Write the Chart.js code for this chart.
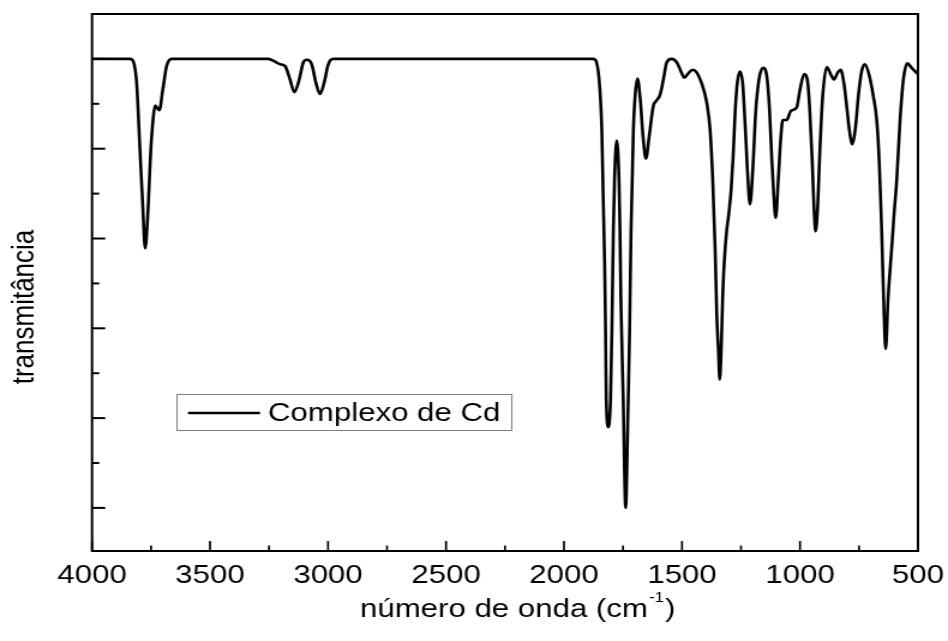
<!DOCTYPE html>
<html>
<head>
<meta charset="utf-8">
<script src="https://cdn.jsdelivr.net/npm/chart.js@4.4.1/dist/chart.umd.min.js"></script>
<style>
  html, body { margin: 0; padding: 0; background: #ffffff; }
  #wrap { width: 948px; height: 641px; overflow: hidden; }
</style>
</head>
<body>
<div id="wrap"><canvas id="c" width="790" height="641" style="display:block;width:948px;height:641px;"></canvas></div>
<script>
// ---- data ----
const seriesLabel = 'Complexo de Cd';
const xTitleMain = 'número de onda (cm';
const xTitleSup = '-1';
const xTitleEnd = ')';
const yTitle = 'transmitância';

const wavenumbers = [
  4000, 3839, 3825, 3811, 3797, 3785, 3775, 3764, 3751, 3740, 3733, 3715, 3700, 3684, 3662,
  3253, 3225, 3203, 3182, 3161, 3143, 3122, 3105, 3090, 3069, 3051, 3034, 3017, 2999, 2978,
  1876, 1862, 1848, 1840, 1834, 1828, 1824, 1821, 1812, 1803, 1797, 1791, 1786, 1777, 1767,
  1763, 1759, 1749, 1739, 1728, 1722, 1716, 1706, 1699, 1689, 1678, 1664, 1653, 1639, 1622,
  1607, 1593, 1579, 1565, 1544, 1522, 1501, 1490, 1473, 1455, 1438, 1417, 1395, 1381, 1370,
  1360, 1353, 1346, 1340, 1334, 1328, 1321, 1311, 1301, 1292, 1284, 1275, 1266, 1254, 1243,
  1233, 1223, 1212, 1200, 1188, 1174, 1156, 1141, 1130, 1120, 1111, 1103, 1092, 1082, 1073,
  1056, 1039, 1014, 1000, 982, 969, 958, 948, 941, 934, 925, 915, 904, 887, 870,
  856, 842, 828, 814, 802, 791, 778, 766, 753, 739, 725, 706, 689, 675, 664,
  654, 644, 637, 627, 611, 602, 590, 576, 562, 545, 527, 500
];
const transmittance = [
  70.0, 70.0, 69.7, 67.3, 59.9, 53.6, 48.9, 52.5, 59.9, 63.6, 64.8, 64.3, 66.6, 69.2, 70.0,
  70.0, 69.7, 69.4, 69.2, 67.7, 66.3, 67.7, 69.6, 69.9, 69.4, 67.3, 66.1, 67.3, 69.4, 70.0,
  70.0, 69.6, 66.6, 62.1, 54.7, 47.3, 39.8, 32.0, 29.0, 32.0, 39.8, 51.0, 56.6, 60.9, 56.6,
  51.0, 43.2, 32.0, 20.0, 32.0, 39.8, 51.0, 62.1, 65.8, 67.8, 65.8, 61.0, 58.9, 61.4, 64.7,
  65.4, 66.0, 67.7, 69.6, 70.0, 69.6, 68.4, 67.9, 68.4, 68.8, 68.5, 67.3, 65.1, 62.1, 56.6,
  49.1, 41.7, 37.6, 34.3, 37.6, 43.2, 47.4, 50.8, 52.9, 55.4, 58.8, 64.0, 67.3, 68.6, 67.3,
  62.9, 57.7, 53.8, 57.7, 64.0, 67.7, 69.0, 68.1, 64.7, 59.1, 54.7, 52.3, 56.6, 61.0, 63.2,
  63.2, 64.2, 64.6, 66.6, 68.3, 67.7, 64.0, 58.4, 53.6, 50.8, 53.6, 60.3, 65.8, 69.1, 68.3,
  67.7, 68.4, 68.8, 67.3, 64.7, 62.1, 60.5, 62.1, 65.8, 68.6, 69.4, 68.1, 65.8, 63.2, 58.4,
  51.0, 41.7, 37.7, 43.2, 49.1, 52.5, 56.6, 63.2, 67.7, 69.5, 69.0, 68.3
];

const xMajorTicks = [4000, 3500, 3000, 2500, 2000, 1500, 1000, 500];
const xMinorTicks = [3750, 3250, 2750, 2250, 1750, 1250, 750];
const yMajorTicks = [20, 30, 40, 50, 60, 70];
const yMinorTicks = [25, 35, 45, 55, 65];

// ---- drawing ----
const FONT = "'Liberation Sans', Arial, Helvetica, sans-serif";

const decor = {
  id: 'decor',
  afterDraw(chart) {
    const { ctx, chartArea: a, scales: { x, y } } = chart;
    ctx.save();
    ctx.strokeStyle = '#000';
    ctx.lineCap = 'butt';

    // inward ticks on bottom axis
    ctx.lineWidth = 1.7;
    const xt = (v, len) => {
      const px = x.getPixelForValue(v);
      ctx.beginPath(); ctx.moveTo(px, a.bottom); ctx.lineTo(px, a.bottom - len); ctx.stroke();
    };
    xMajorTicks.forEach(v => xt(v, 10));
    xMinorTicks.forEach(v => xt(v, 5.5));

    // inward ticks on left axis
    ctx.lineWidth = 2;
    const yt = (v, len) => {
      const py = y.getPixelForValue(v);
      ctx.beginPath(); ctx.moveTo(a.left, py); ctx.lineTo(a.left + len, py); ctx.stroke();
    };
    yMajorTicks.forEach(v => yt(v, 11));
    yMinorTicks.forEach(v => yt(v, 6));

    // frame
    ctx.lineWidth = 2;
    ctx.strokeRect(a.left, a.top, a.right - a.left, a.bottom - a.top);

    // legend box
    const ds = chart.data.datasets[0];
    ctx.lineWidth = 1;
    ctx.strokeStyle = '#808080';
    ctx.strokeRect(147.5, 394.5, 279, 36);
    ctx.strokeStyle = ds.borderColor;
    ctx.lineWidth = ds.borderWidth;
    ctx.beginPath(); ctx.moveTo(156.7, 413); ctx.lineTo(216.7, 413); ctx.stroke();
    ctx.fillStyle = '#000';
    ctx.font = '26px ' + FONT;
    ctx.textAlign = 'left';
    ctx.textBaseline = 'middle';
    ctx.fillText(ds.label, 223.3, 414);

    // x title with superscript
    ctx.textBaseline = 'alphabetic';
    let tx = 300;
    ctx.font = '26px ' + FONT;
    ctx.fillText(xTitleMain, tx, 617);
    tx += ctx.measureText(xTitleMain).width + 1;
    ctx.font = '14px ' + FONT;
    ctx.fillText(xTitleSup, tx, 602);
    tx += ctx.measureText(xTitleSup).width + 1;
    ctx.font = '26px ' + FONT;
    ctx.fillText(xTitleEnd, tx, 617);

    // y title
    ctx.save();
    ctx.translate(27.8, 307);
    ctx.rotate(-Math.PI / 2);
    ctx.textAlign = 'center';
    ctx.textBaseline = 'alphabetic';
    ctx.font = '26px ' + FONT;
    ctx.fillText(yTitle, 0, 0);
    ctx.restore();

    ctx.restore();
  }
};

new Chart(document.getElementById('c'), {
  type: 'line',
  data: {
    datasets: [{
      label: seriesLabel,
      data: wavenumbers.map((w, i) => ({ x: w, y: transmittance[i] })),
      borderColor: '#000000',
      borderWidth: 2.6,
      pointRadius: 0,
      fill: false,
      cubicInterpolationMode: 'monotone'
    }]
  },
  options: {
    responsive: false,
    devicePixelRatio: 1,
    animation: false,
    events: [],
    layout: { padding: { left: 76.7, right: 25, top: 14, bottom: 0 } },
    plugins: { legend: { display: false }, tooltip: { enabled: false }, title: { display: false } },
    scales: {
      x: {
        type: 'linear',
        reverse: true,
        min: 500,
        max: 4000,
        afterFit: (s) => { s.height = 90; s.paddingLeft = 0; s.paddingRight = 0; },
        grid: { display: false, drawTicks: false, tickLength: 0 },
        border: { display: false },
        afterBuildTicks: (s) => { s.ticks = xMajorTicks.slice().sort((p, q) => p - q).map(v => ({ value: v })); },
        ticks: {
          autoSkip: false,
          maxRotation: 0,
          padding: 9,
          color: '#000',
          font: { family: FONT, size: 26 },
          callback: (v) => String(v)
        },
        title: { display: false }
      },
      y: {
        type: 'linear',
        display: false,
        min: 15.2,
        max: 75
      }
    }
  },
  plugins: [decor]
});
</script>
</body>
</html>
